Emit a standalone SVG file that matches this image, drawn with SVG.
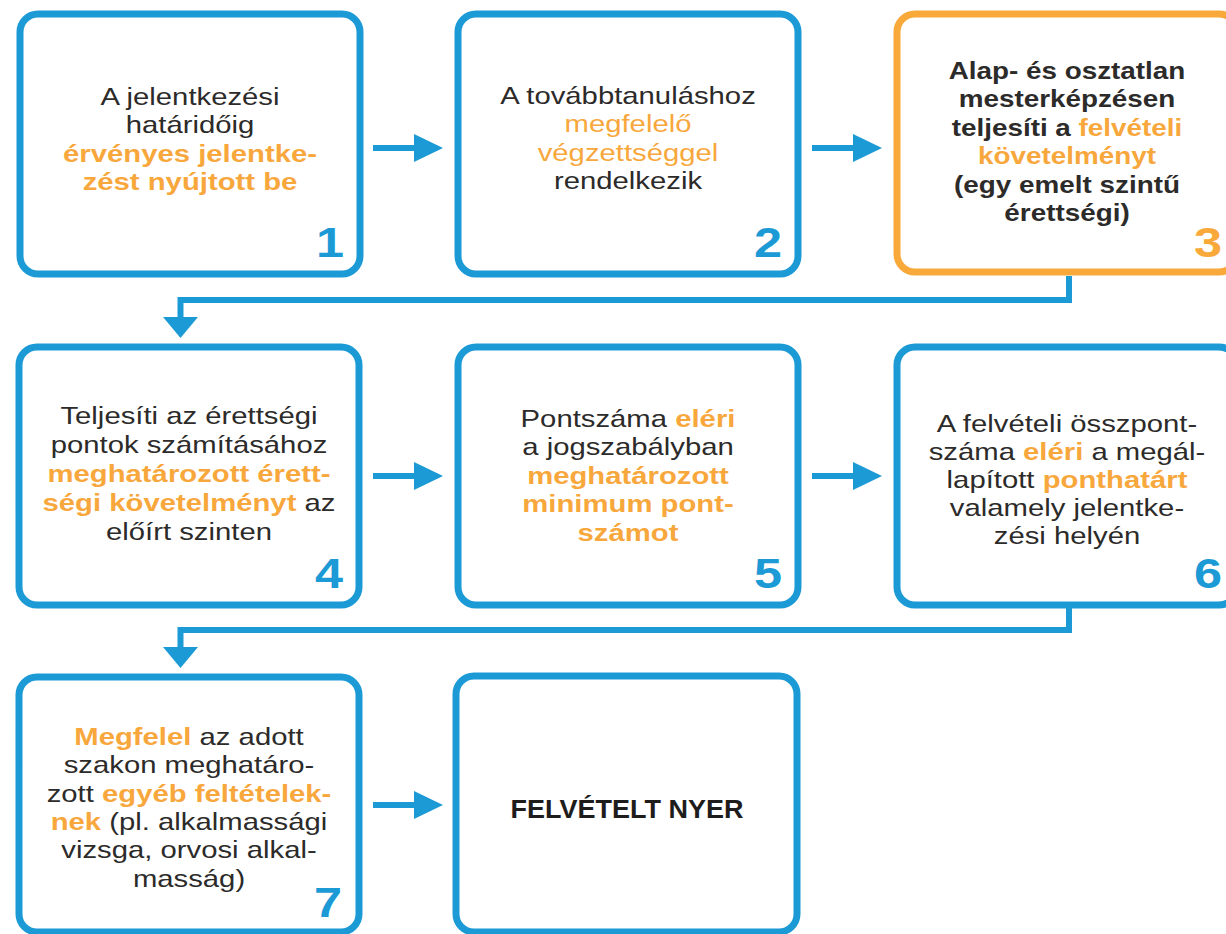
<svg xmlns="http://www.w3.org/2000/svg" width="1226" height="934" viewBox="0 0 1226 934">
<style>
.box{fill:#fff;stroke:#1c9ad6;stroke-width:7}
.box.or{stroke:#f8a93a}
.t{font-family:"Liberation Sans",Arial,sans-serif;font-size:24px;fill:#2c2b2a;text-anchor:middle}
.o{fill:#f8a73c;font-weight:bold}
.ol{fill:#f8a73c}
.b{font-weight:bold}
.num{font-family:"Liberation Sans",Arial,sans-serif;font-size:42px;font-weight:bold;fill:#1c9ad6;text-anchor:end}
.num.or{fill:#f8a93a}
.ln{fill:none;stroke:#1c9ad6;stroke-width:6}
.hd{fill:#1c9ad6}
</style>
<rect width="1226" height="934" fill="#fff"/>
<g id="connectors">
<line class="ln" x1="373" y1="148" x2="418" y2="148"/><polygon class="hd" points="414,134 443,148 414,162"/>
<line class="ln" x1="812" y1="148" x2="857" y2="148"/><polygon class="hd" points="853,134 882,148 853,162"/>
<path class="ln" d="M1069,276 V300 H180.5 V320"/><polygon class="hd" points="163,317 198,317 180.5,338"/>
<line class="ln" x1="373" y1="476" x2="418" y2="476"/><polygon class="hd" points="414,462 443,476 414,490"/>
<line class="ln" x1="812" y1="476" x2="857" y2="476"/><polygon class="hd" points="853,462 882,476 853,490"/>
<path class="ln" d="M1069,607 V630 H180.5 V650"/><polygon class="hd" points="163,647 198,647 180.5,668"/>
<line class="ln" x1="373" y1="805" x2="418" y2="805"/><polygon class="hd" points="414,791 443,805 414,819"/>
</g>
<g id="node1">
<rect class="box" x="20" y="14" width="340" height="260" rx="18"/>
<g transform="translate(190 0) scale(1.22 1)">
<text class="t" x="0" y="105">A jelentkezési</text>
<text class="t" x="0" y="133.5">határidőig</text>
<text class="t o" x="0" y="162">érvényes jelentke-</text>
<text class="t o" x="0" y="190.5">zést nyújtott be</text>
</g>
<text class="num" transform="translate(344 257) scale(1.2 1)">1</text>
</g>
<g id="node2">
<rect class="box" x="458" y="14" width="340" height="260" rx="18"/>
<g transform="translate(628 0) scale(1.22 1)">
<text class="t" x="0" y="104">A továbbtanuláshoz</text>
<text class="t ol" x="0" y="132.5">megfelelő</text>
<text class="t ol" x="0" y="161">végzettséggel</text>
<text class="t" x="0" y="189.5">rendelkezik</text>
</g>
<text class="num" transform="translate(782 257) scale(1.2 1)">2</text>
</g>
<g id="node3">
<rect class="box or" x="897" y="14" width="340" height="258" rx="18"/>
<g transform="translate(1067 0) scale(1.16 1)">
<text class="t b" x="0" y="79">Alap- és osztatlan</text>
<text class="t b" x="0" y="107.5">mesterképzésen</text>
<text class="t b" x="0" y="136">teljesíti a <tspan class="o">felvételi</tspan></text>
<text class="t o" x="0" y="164.5">követelményt</text>
<text class="t b" x="0" y="193">(egy emelt szintű</text>
<text class="t b" x="0" y="221.5">érettségi)</text>
</g>
<text class="num or" transform="translate(1222 257) scale(1.2 1)">3</text>
</g>
<g id="node4">
<rect class="box" x="19" y="347" width="340" height="258" rx="18"/>
<g transform="translate(189 0) scale(1.22 1)">
<text class="t" x="0" y="424">Teljesíti az érettségi</text>
<text class="t" x="0" y="453">pontok számításához</text>
<text class="t o" x="0" y="482">meghatározott érett-</text>
<text class="t" x="0" y="511"><tspan class="o">ségi követelményt</tspan> az</text>
<text class="t" x="0" y="540">előírt szinten</text>
</g>
<text class="num" transform="translate(343 588) scale(1.2 1)">4</text>
</g>
<g id="node5">
<rect class="box" x="458" y="347" width="340" height="258" rx="18"/>
<g transform="translate(628 0) scale(1.22 1)">
<text class="t" x="0" y="427">Pontszáma <tspan class="o">eléri</tspan></text>
<text class="t" x="0" y="455.5">a jogszabályban</text>
<text class="t o" x="0" y="484">meghatározott</text>
<text class="t o" x="0" y="512.5">minimum pont-</text>
<text class="t o" x="0" y="541">számot</text>
</g>
<text class="num" transform="translate(782 588) scale(1.2 1)">5</text>
</g>
<g id="node6">
<rect class="box" x="897" y="347" width="340" height="258" rx="18"/>
<g transform="translate(1067 0) scale(1.22 1)">
<text class="t" x="0" y="432">A felvételi összpont-</text>
<text class="t" x="0" y="460">száma <tspan class="o">eléri</tspan> a megál-</text>
<text class="t" x="0" y="488">lapított <tspan class="o">ponthatárt</tspan></text>
<text class="t" x="0" y="516">valamely jelentke-</text>
<text class="t" x="0" y="544">zési helyén</text>
</g>
<text class="num" transform="translate(1222 588) scale(1.2 1)">6</text>
</g>
<g id="node7">
<rect class="box" x="19" y="677" width="340" height="255" rx="18"/>
<g transform="translate(189 0) scale(1.22 1)">
<text class="t" x="0" y="745"><tspan class="o">Megfelel</tspan> az adott</text>
<text class="t" x="0" y="773.3">szakon meghatáro-</text>
<text class="t" x="0" y="801.6">zott <tspan class="o">egyéb feltételek-</tspan></text>
<text class="t" x="0" y="830"><tspan class="o">nek</tspan> (pl. alkalmassági</text>
<text class="t" x="0" y="858.3">vizsga, orvosi alkal-</text>
<text class="t" x="0" y="886.6">masság)</text>
</g>
<text class="num" transform="translate(342 917) scale(1.2 1)">7</text>
</g>
<g id="node8">
<rect class="box" x="456" y="676" width="341" height="256" rx="18"/>
<g transform="translate(627 0) scale(1.08 1)">
<text class="t b" x="0" y="818" style="font-size:25px;fill:#1e1d1c">FELVÉTELT NYER</text>
</g>
</g>
</svg>
